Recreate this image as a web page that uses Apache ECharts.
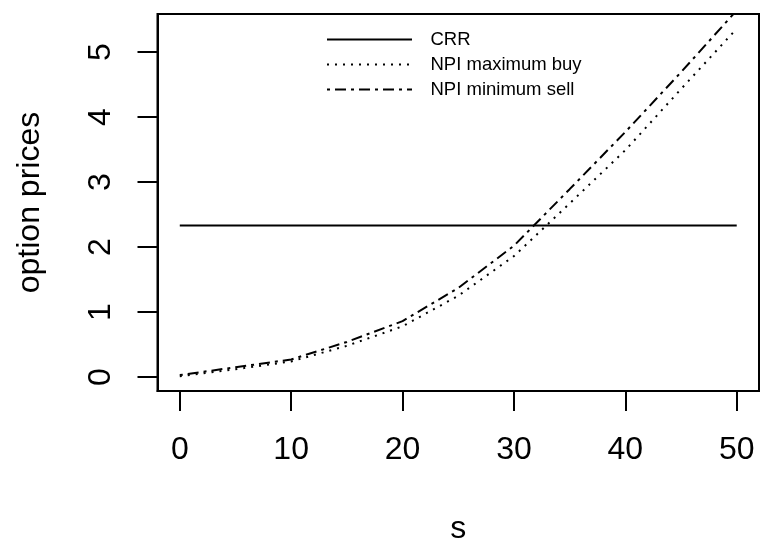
<!DOCTYPE html>
<html>
<head>
<meta charset="utf-8">
<script src="https://cdn.jsdelivr.net/npm/echarts@6/dist/echarts.min.js"></script>
<style>
html,body{margin:0;padding:0;background:#fff;}
#chart{width:760px;height:542px;}
</style>
</head>
<body>
<div id="chart"></div>
<script>
// ---- data ----
const sValues   = [0, 5, 10, 15, 20, 25, 30, 35, 40, 45, 50];
const crr       = [2.33, 2.33, 2.33, 2.33, 2.33, 2.33, 2.33, 2.33, 2.33, 2.33, 2.33];
const npiMaxBuy = [0.01, 0.12, 0.24, 0.48, 0.78, 1.25, 1.86, 2.67, 3.49, 4.43, 5.36];
const npiMinSell= [0.03, 0.15, 0.27, 0.54, 0.86, 1.37, 2.02, 2.89, 3.77, 4.69, 5.64];
const xTicks = [0, 10, 20, 30, 40, 50];
const yTicks = [0, 1, 2, 3, 4, 5];
const seriesNames = ['CRR', 'NPI maximum buy', 'NPI minimum sell'];

const pairs = ys => sValues.map((s, i) => [s, ys[i]]);
const FONT = '"Liberation Sans", Arial, Helvetica, sans-serif';
const chart = echarts.init(document.getElementById('chart'), null, {renderer: 'canvas'});

chart.setOption({
  animation: false,
  backgroundColor: '#ffffff',
  grid: {
    left: 157.5, right: 1, top: 14, bottom: 151,
    containLabel: false, outerBoundsMode: 'none',
    show: true, borderColor: '#000', borderWidth: 2, backgroundColor: 'transparent'
  },
  legend: {
    orient: 'vertical',
    left: 321, top: 25,
    itemWidth: 85, itemHeight: 18, itemGap: 6,
    data: seriesNames,
    itemStyle: {color: 'transparent', borderWidth: 0, opacity: 0},
    textStyle: {fontFamily: FONT, fontSize: 18.5, color: '#000', lineHeight: 18, padding: [0, 0, 0, 13.5]}
  },
  xAxis: {
    type: 'value', min: -2, max: 52,
    name: 's', nameLocation: 'middle', nameGap: 122,
    nameTextStyle: {fontFamily: FONT, fontSize: 32, color: '#000'},
    axisLine: {show: true, onZero: false, lineStyle: {color: '#000', width: 2}},
    axisTick: {show: true, inside: false, length: 20, customValues: xTicks, lineStyle: {color: '#000', width: 2}},
    axisLabel: {show: true, margin: 43.5, customValues: xTicks, fontFamily: FONT, fontSize: 32, color: '#000'},
    splitLine: {show: false}
  },
  yAxis: {
    type: 'value', min: -0.215, max: 5.585,
    name: 'option prices', nameLocation: 'middle', nameGap: 111, nameRotate: 90,
    nameTextStyle: {fontFamily: FONT, fontSize: 32, color: '#000'},
    axisLine: {show: true, onZero: false, lineStyle: {color: '#000', width: 2}},
    axisTick: {show: true, inside: false, length: 20, customValues: yTicks, lineStyle: {color: '#000', width: 2}},
    axisLabel: {show: true, margin: 40.5, rotate: 90, customValues: yTicks, fontFamily: FONT, fontSize: 32, color: '#000'},
    splitLine: {show: false}
  },
  series: [
    {name: seriesNames[0], type: 'line', data: pairs(crr), symbol: 'none', color: '#000',
     lineStyle: {color: '#000', width: 2, type: 'solid'}},
    {name: seriesNames[1], type: 'line', data: pairs(npiMaxBuy), symbol: 'none', color: '#000',
     lineStyle: {color: '#000', width: 2, type: [2, 6]}},
    {name: seriesNames[2], type: 'line', data: pairs(npiMinSell), symbol: 'none', color: '#000',
     lineStyle: {color: '#000', width: 2, type: [3, 5, 11, 5]}}
  ]
});
</script>
</body>
</html>
